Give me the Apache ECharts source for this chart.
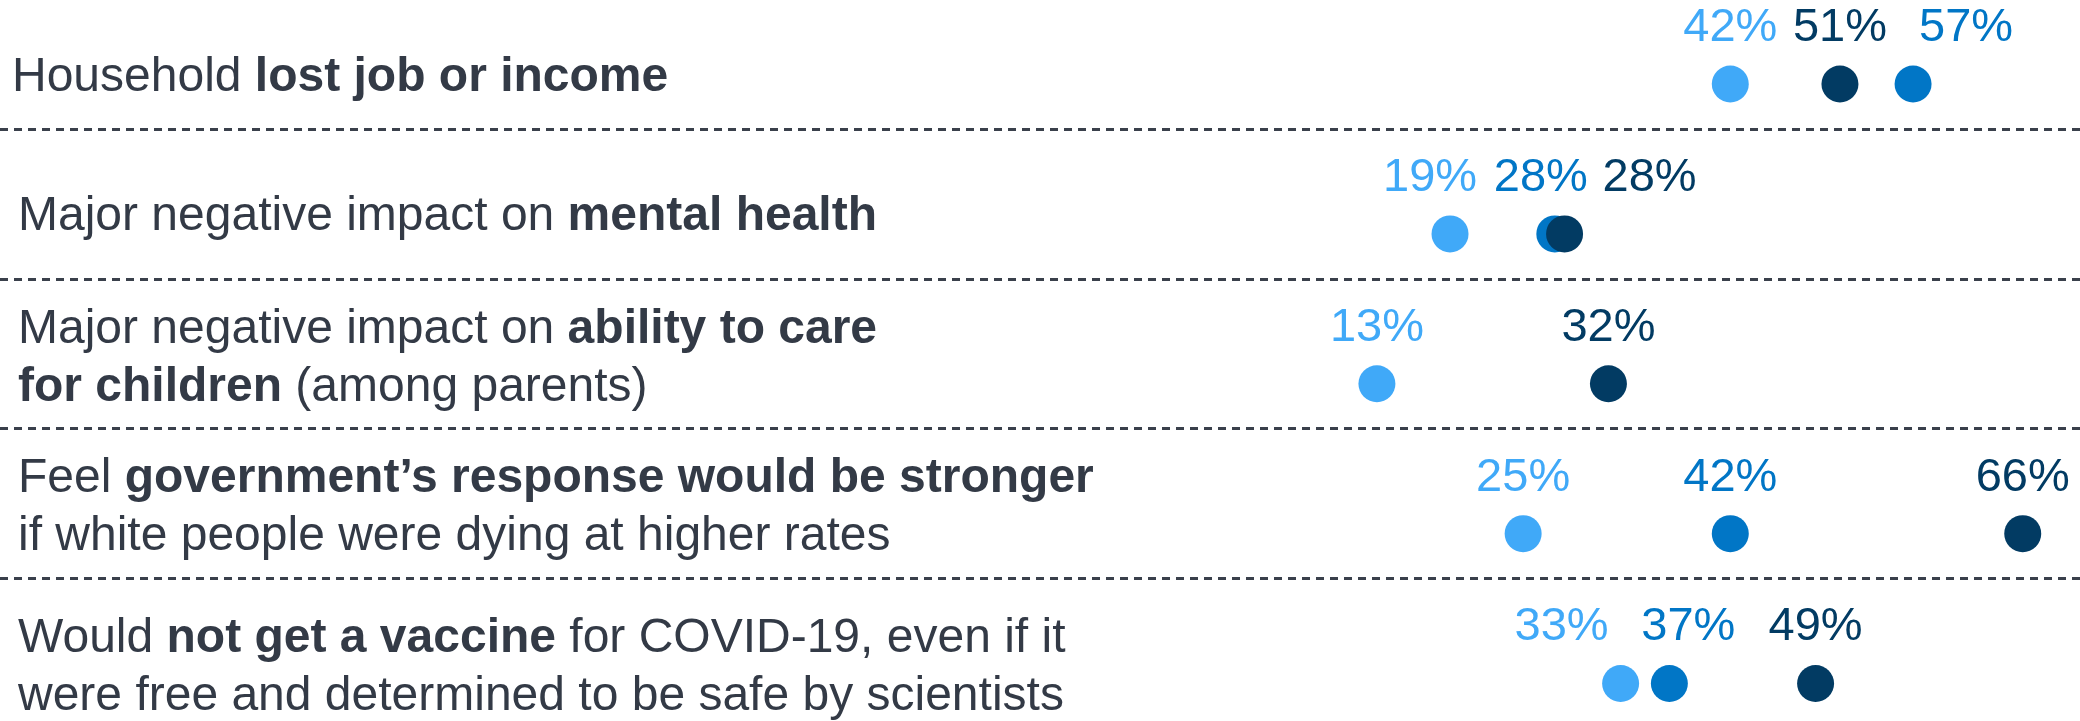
<!DOCTYPE html>
<html>
<head>
<meta charset="utf-8">
<style>
html, body { margin: 0; padding: 0; background: #fff; }
#chart { width: 2080px; height: 721px; }
</style>
<script src="https://cdn.jsdelivr.net/npm/echarts@6/dist/echarts.min.js"></script>
</head>
<body>
<div id="chart"></div>
<script>
// rows, top to bottom; **...** marks the bold part of each label
var categories = [
    'Household **lost job or income**',
    'Major negative impact on **mental health**',
    'Major negative impact on **ability to care**\n**for children** (among parents)',
    'Feel **government\u2019s response would be stronger**\nif white people were dying at higher rates',
    'Would **not get a vaccine** for COVID-19, even if it\nwere free and determined to be safe by scientists'
];
var lightValues = [42, 19, 13, 25, 33];
var midValues = [57, 27.6, null, 42, 37];
var navyValues = [51, 28.4, 32, 66, 49];

// layout only: row label lift / indent, and value label nudges
var rowLift = [13, 35, 49, 51, 31];
var rowIndent = [0, 6, 6, 6, 6];
var lightNudge = [0, -20, 0, 0, -59];
var midNudge = [53, -14, 0, 0, 19];
var navyNudge = [0, 85, 0, 0, 0];

var FONT = '"Liberation Sans", Arial, Helvetica, sans-serif';
var TEXT = '#333a46';

function toRich(str) {
    return str.split('\n').map(function (line) {
        return line.split('**').map(function (part, i) {
            if (!part) return '';
            return (i % 2 ? '{b|' : '{n|') + part + '}';
        }).join('');
    }).join('\n');
}

function makeSeries(name, values, nudge, color, withLines) {
    var data = [];
    values.forEach(function (v, i) {
        if (v == null) return;
        data.push({ value: [v, i], label: { offset: [nudge[i], 0] } });
    });
    var s = {
        name: name,
        type: 'scatter',
        yAxisIndex: 1,
        symbol: 'circle',
        symbolSize: 37,
        data: data,
        itemStyle: { color: color, opacity: 1 },
        label: {
            show: true,
            position: 'top',
            distance: 14,
            fontFamily: FONT,
            fontSize: 47,
            color: color,
            formatter: function (p) { return Math.round(p.value[0]) + '%'; }
        },
        silent: true
    };
    if (withLines) {
        s.markLine = {
            silent: true,
            symbol: 'none',
            label: { show: false },
            lineStyle: { color: '#3a404b', width: 3, type: [8, 6] },
            data: [0, 1, 2, 3].map(function (i) { return { yAxis: i + 0.3 }; })
        };
    }
    return s;
}

var myChart = echarts.init(document.getElementById('chart'));

var option = {
    animation: false,
    backgroundColor: '#fff',
    grid: { left: 0, right: 0, top: 84, bottom: 33, containLabel: false },
    xAxis: {
        type: 'value',
        min: -100,
        max: 70.7,
        show: false
    },
    yAxis: [
        {
            type: 'category',
            inverse: true,
            boundaryGap: false,
            data: categories.map(function (c, i) {
                return { value: c, textStyle: { padding: [0, 0, rowLift[i], rowIndent[i]] } };
            }),
            axisLine: { show: false },
            axisTick: { show: false },
            splitLine: { show: false },
            axisLabel: {
                inside: true,
                interval: 0,
                margin: 12,
                fontFamily: FONT,
                fontSize: 48,
                color: TEXT,
                formatter: function (v) { return toRich(v); },
                rich: {
                    n: { fontFamily: FONT, fontSize: 48, color: TEXT, lineHeight: 58 },
                    b: { fontFamily: FONT, fontSize: 48, color: TEXT, fontWeight: 'bold', lineHeight: 58 }
                }
            }
        },
        {
            type: 'value',
            inverse: true,
            min: 0,
            max: 4,
            show: false
        }
    ],
    series: [
        makeSeries('light', lightValues, lightNudge, '#40a9f8', true),
        makeSeries('mid', midValues, midNudge, '#0176c6', false),
        makeSeries('navy', navyValues, navyNudge, '#023b63', false)
    ]
};

myChart.setOption(option, true);
window.onresize = myChart.resize;
</script>
</body>
</html>
